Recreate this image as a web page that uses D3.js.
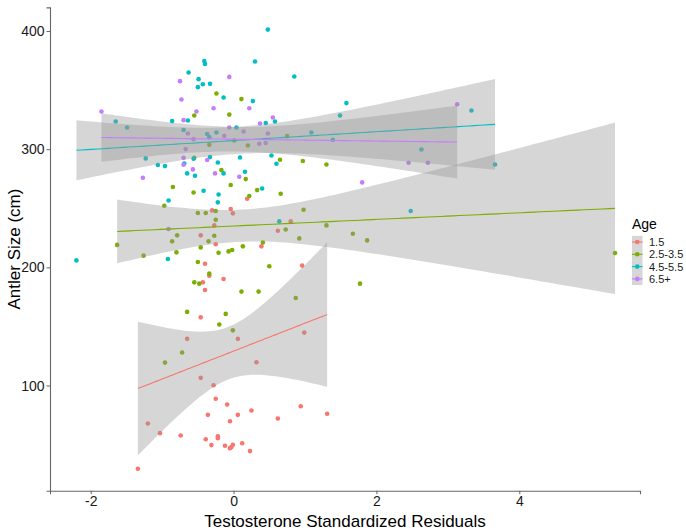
<!DOCTYPE html>
<html>
<head>
<meta charset="utf-8">
<script src="https://cdn.jsdelivr.net/npm/d3@7"></script>
<style>
  body { margin: 0; background: #fff; }
  text { font-family: "Liberation Sans", Arial, sans-serif; }
</style>
</head>
<body>
<svg id="chart" width="686" height="532"></svg>
<script>
const ageGroups = ["1.5", "2.5-3.5", "4.5-5.5", "6.5+"];
const groupColors = ["#F8766D", "#7CAE00", "#00BFC4", "#C77CFF"];
const xTicks = [-2, 0, 2, 4];
const yTicks = [100, 200, 300, 400];

// [testosterone residual, antler size]
const age15 = [
  [0.19,258.1],[-0.04,249.4],[-0.01,245.7],[-0.30,248.2],[0.80,238.9],[-0.27,235.5],
  [0.62,231.0],[-0.46,227.1],[-0.25,219.5],[0.39,217.8],[-0.40,203.1],[0.96,201.5],
  [-0.34,193.0],[-0.14,190.2],[-0.43,187.3],[-0.40,180.9],[-0.46,157.7],[0.99,144.8],
  [-0.65,139.5],[0.06,139.5],[0.32,119.7],[-0.46,106.5],[-0.28,100.3],[-0.25,88.8],
  [-0.09,83.9],[-0.36,75.2],[0.06,75.2],[0.25,78.9],[-0.05,69.8],[0.94,82.5],
  [1.31,76.1],[0.62,72.1],[-1.20,67.9],[-1.03,59.7],[-0.74,57.7],[-0.39,54.6],
  [-0.22,57.1],[-0.22,55.4],[-0.31,49.6],[-0.12,49.0],[-0.05,47.0],[-0.01,49.9],
  [-0.03,47.9],[0.12,51.2],[0.23,44.5],[-1.34,29.6]
];
const age25 = [
  [-0.24,347.1],[0.11,342.4],[-0.55,328.5],[-0.06,329.3],[0.01,307.4],[-0.34,303.7],
  [0.20,303.1],[0.75,311.1],[-0.55,292.7],[0.65,291.1],[-0.17,282.3],[0.17,274.7],
  [0.97,290.0],[1.30,287.1],[-0.85,268.0],[-0.56,263.4],[-0.04,269.7],[0.33,265.4],
  [0.22,260.4],[0.66,262.3],[-0.97,252.2],[-0.25,247.7],[-0.50,246.0],[-0.39,246.0],
  [-0.25,240.3],[0.98,248.8],[0.73,232.1],[1.30,235.5],[1.67,228.5],[1.87,222.8],
  [-1.63,219.0],[-0.79,227.1],[-0.27,226.8],[-0.86,222.0],[-0.35,222.0],[0.41,221.1],
  [0.13,217.8],[0.92,224.5],[-0.46,216.9],[-0.02,214.7],[-0.07,213.5],[-0.21,212.4],
  [-0.80,212.7],[-1.26,209.9],[-0.50,204.6],[0.50,200.9],[-0.34,194.7],[-0.55,187.3],
  [-0.48,186.2],[0.11,179.5],[0.35,179.5],[1.77,186.2],[0.87,174.1],[-0.65,162.3],
  [-0.11,160.6],[-0.20,151.6],[-0.01,146.7],[-0.72,127.9],[-0.96,119.4],[5.34,212.2]
];
const age45 = [
  [0.48,401.2],[-0.41,374.7],[-0.40,372.2],[0.30,374.2],[-0.63,364.9],[-0.49,359.3],
  [-0.50,352.5],[-0.43,355.0],[-0.33,355.3],[0.85,361.5],[-0.14,343.7],[0.27,340.7],
  [1.58,339.0],[1.49,328.5],[-0.64,324.3],[-0.86,323.8],[-1.65,323.4],[0.45,322.1],
  [0.58,323.4],[-1.49,318.4],[-0.70,316.2],[0.04,318.4],[-0.37,312.8],[-0.24,314.1],
  [-0.34,310.2],[1.09,314.1],[1.39,308.0],[-1.23,292.2],[-0.56,291.9],[-0.33,293.3],
  [0.09,293.0],[0.53,294.7],[0.60,287.7],[-0.22,288.8],[-1.06,286.6],[-0.96,285.7],
  [-0.69,287.9],[-0.65,279.5],[-0.54,277.5],[-0.14,279.5],[0.16,280.9],[3.33,332.7],
  [2.63,299.8],[3.66,287.1],[-0.42,264.8],[-0.21,261.7],[0.40,266.8],[-0.91,256.6],
  [-0.22,255.0],[0.64,238.9],[-0.92,207.1],[2.48,247.7],[-2.20,205.9]
];
const age65 = [
  [-0.75,357.6],[-0.06,361.2],[-0.73,342.0],[-0.28,334.7],[0.22,334.7],[-0.52,331.9],
  [-1.85,331.9],[-0.70,324.6],[0.55,326.8],[0.37,321.8],[-0.64,313.3],[-0.06,318.4],
  [0.14,315.0],[-0.13,311.3],[-0.56,308.5],[0.48,313.3],[0.36,304.6],[0.45,305.2],
  [-0.67,300.1],[-0.70,292.7],[-0.37,290.8],[-0.70,286.8],[-0.57,282.9],[-0.26,279.5],
  [0.08,276.7],[-1.27,275.8],[3.13,338.1],[2.45,288.5],[2.72,288.5],[1.80,271.9],
  [-0.91,232.5]
];
const groupData = [age15, age25, age45, age65];

const width = 686, height = 532;
const margin = { top: 7.4, right: 46, bottom: 41.3, left: 50 };

const svg = d3.select("#chart");

const x = d3.scaleLinear().domain([-2.57, 5.69]).range([margin.left, width - margin.right]);
const y = d3.scaleLinear().domain([11, 420]).range([height - margin.bottom, margin.top]);

// t quantile (0.975) via Cornish-Fisher expansion
function tQuantile(df) {
  const z = 1.959964;
  return z + (z ** 3 + z) / (4 * df)
    + (5 * z ** 5 + 16 * z ** 3 + 3 * z) / (96 * df * df)
    + (3 * z ** 7 + 19 * z ** 5 + 17 * z ** 3 - 15 * z) / (384 * df ** 3);
}

// linear fit with 95% confidence band, like geom_smooth(method = "lm")
function lmBand(pts) {
  const n = pts.length;
  const mx = d3.mean(pts, d => d[0]);
  const my = d3.mean(pts, d => d[1]);
  let sxx = 0, sxy = 0;
  pts.forEach(d => { sxx += (d[0] - mx) ** 2; sxy += (d[0] - mx) * (d[1] - my); });
  const b = sxy / sxx, a = my - b * mx;
  let sse = 0;
  pts.forEach(d => { sse += (d[1] - a - b * d[0]) ** 2; });
  const s = Math.sqrt(sse / (n - 2));
  const t = tQuantile(n - 2);
  const [x0, x1] = d3.extent(pts, d => d[0]);
  const out = [];
  for (let i = 0; i <= 80; i++) {
    const xv = x0 + (x1 - x0) * i / 80;
    const fit = a + b * xv;
    const se = s * Math.sqrt(1 / n + (xv - mx) ** 2 / sxx);
    out.push({ x: xv, fit: fit, lo: fit - t * se, hi: fit + t * se });
  }
  return out;
}

// points
groupData.forEach((pts, gi) => {
  svg.append("g").selectAll("circle")
    .data(pts)
    .join("circle")
    .attr("cx", d => x(d[0]))
    .attr("cy", d => y(d[1]))
    .attr("r", 2.3)
    .attr("fill", groupColors[gi]);
});

// smooths
const area = d3.area().x(d => x(d.x)).y0(d => y(d.lo)).y1(d => y(d.hi));
const line = d3.line().x(d => x(d.x)).y(d => y(d.fit));
groupData.forEach((pts, gi) => {
  const band = lmBand(pts);
  svg.append("path").datum(band)
    .attr("d", area)
    .attr("fill", "#999999")
    .attr("fill-opacity", 0.4);
  svg.append("path").datum(band)
    .attr("d", line)
    .attr("fill", "none")
    .attr("stroke", groupColors[gi])
    .attr("stroke-width", 1.1);
});

// axes
const xAxis = svg.append("g")
  .attr("transform", `translate(0,${height - margin.bottom})`)
  .call(d3.axisBottom(x).tickValues(xTicks).tickSize(3.5).tickPadding(2).tickFormat(d3.format("d")));
const yAxis = svg.append("g")
  .attr("transform", `translate(${margin.left},0)`)
  .call(d3.axisLeft(y).tickValues(yTicks).tickSize(3.5).tickPadding(2).tickFormat(d3.format("d")));
[xAxis, yAxis].forEach(g => {
  g.select(".domain").attr("stroke", "#666").attr("stroke-width", 1.1);
  g.selectAll(".tick line").attr("stroke", "#666");
  g.selectAll(".tick text").attr("fill", "#1a1a1a").style("font-size", "14px")
    .style("font-family", "'Liberation Sans', Arial, sans-serif");
});
xAxis.selectAll(".tick text").text(d => d < 0 ? "-" + Math.abs(d) : d);

svg.append("text")
  .attr("x", (margin.left + width - margin.right) / 2)
  .attr("y", 527)
  .attr("text-anchor", "middle")
  .style("font-size", "17px")
  .attr("fill", "#000")
  .text("Testosterone Standardized Residuals");

svg.append("text")
  .attr("transform", `translate(20,${(margin.top + height - margin.bottom) / 2}) rotate(-90)`)
  .attr("text-anchor", "middle")
  .style("font-size", "17px")
  .attr("fill", "#000")
  .text("Antler Size (cm)");

// legend
const legend = svg.append("g").attr("transform", "translate(632,0)");
legend.append("text").attr("x", 0).attr("y", 229).style("font-size", "14px").text("Age");
ageGroups.forEach((g, i) => {
  const cy = 242 + i * 12.3;
  legend.append("rect").attr("x", 0).attr("y", cy - 6.15).attr("width", 10.5).attr("height", 12.3)
    .attr("fill", "#999999").attr("fill-opacity", 0.4);
  legend.append("line").attr("x1", 0).attr("x2", 10.5).attr("y1", cy).attr("y2", cy)
    .attr("stroke", groupColors[i]).attr("stroke-width", 1.1);
  legend.append("circle").attr("cx", 5.25).attr("cy", cy).attr("r", 2.3).attr("fill", groupColors[i]);
  legend.append("text").attr("x", 17).attr("y", cy).attr("dy", "0.36em")
    .style("font-size", "11px").attr("fill", "#1a1a1a").text(g);
});
</script>
</body>
</html>
